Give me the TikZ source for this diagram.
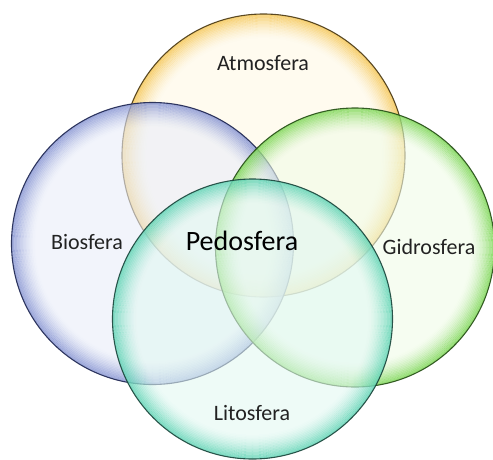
\documentclass[tikz,border=0pt]{standalone}
\usepackage{fontspec}
\setmainfont{Carlito}
\definecolor{atmL}{HTML}{FFF8E4}
\definecolor{atmD}{HTML}{F2B82C}
\definecolor{atmO}{HTML}{4A3812}
\definecolor{bioL}{HTML}{E9EDF9}
\definecolor{bioD}{HTML}{6C7CC8}
\definecolor{bioO}{HTML}{1C2450}
\definecolor{gidL}{HTML}{F0FCE8}
\definecolor{gidD}{HTML}{5CCC2C}
\definecolor{gidO}{HTML}{244E14}
\definecolor{litL}{HTML}{E2F8F2}
\definecolor{litD}{HTML}{3CCAA4}
\definecolor{litO}{HTML}{18443A}
\definecolor{txt}{HTML}{222222}
\tikzset{
  sphere/.style={circle, inner sep=0pt, fill opacity=0.6, draw=none},
  rim/.style={line width=1.6pt},
  edge/.style={line width=1.1pt, draw opacity=0.9},
  lbl/.style={font=\fontsize{22}{26}\selectfont, text=txt, inner sep=0pt},
  biglbl/.style={font=\fontsize{28}{32}\selectfont, text=black, inner sep=0pt}
}
% #1 node name, #2 radius, #3 rim colour, #4 outline colour
\newcommand{\glassrim}[4]{%
  \foreach \k in {0,...,15}{%
    \pgfmathsetmacro{\op}{0.6*(1-\k/16)^1.6}%
    \draw[rim, draw=#3, draw opacity=\op] (#1.center) circle[radius=#2-0.8-1.5*\k];
  }%
  \draw[edge, draw=#4] (#1.center) circle[radius=#2];
}
\begin{document}
\begin{tikzpicture}[x=1pt,y=-1pt]
\useasboundingbox (0,0) rectangle (493,459);
\node[sphere, minimum size=283pt, fill=atmL] (atm) at (263.5,155.5) {};
\glassrim{atm}{141.5}{atmD}{atmO}
\node[sphere, minimum size=282pt, fill=bioL] (bio) at (152.5,243.5) {};
\glassrim{bio}{141}{bioD}{bioO}
\node[sphere, minimum size=279pt, fill=gidL] (gid) at (355,247.5) {};
\glassrim{gid}{139.5}{gidD}{gidO}
\node[sphere, minimum size=280pt, fill=litL] (lit) at (252.5,319) {};
\glassrim{lit}{140}{litD}{litO}
\node[lbl] (tatm) at (263,63) {Atmosfera};
\node[lbl] (tbio) at (87,242) {Biosfera};
\node[lbl] (tgid) at (429,247) {Gidrosfera};
\node[lbl] (tlit) at (252,413) {Litosfera};
\node[biglbl] (tped) at (242,241) {Pedosfera};
\end{tikzpicture}
\end{document}
